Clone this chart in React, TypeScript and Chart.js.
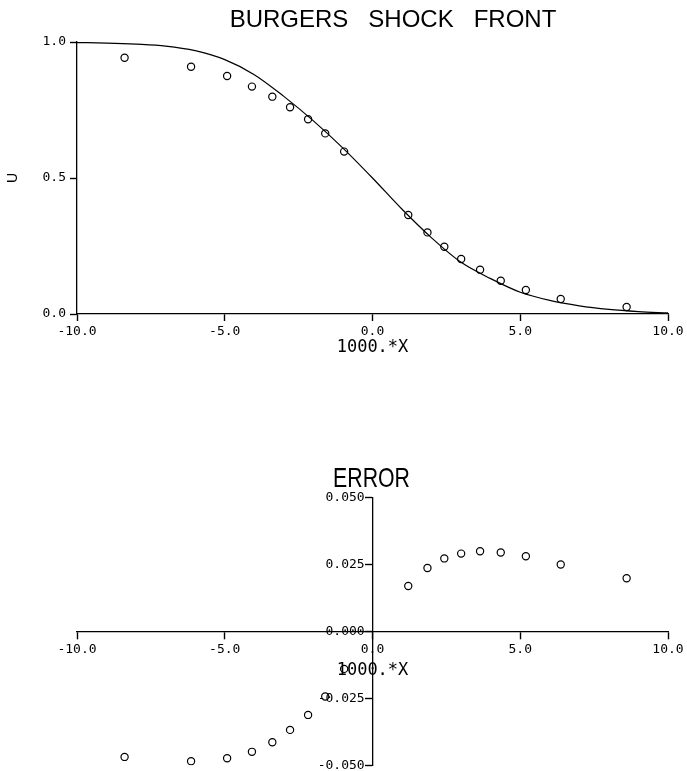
import React, { useEffect, useRef } from "react";
import { Chart, registerables } from "chart.js";

Chart.register(...registerables);

// ---- data ----
const pointX = [-8.39, -6.14, -4.92, -4.08, -3.39, -2.79, -2.18, -1.6, -0.96, 1.21, 1.86, 2.43, 3.0, 3.64, 4.34, 5.19, 6.37, 8.6];
const pointU = [0.942, 0.909, 0.875, 0.836, 0.799, 0.76, 0.716, 0.664, 0.597, 0.364, 0.3, 0.247, 0.202, 0.163, 0.122, 0.088, 0.055, 0.026];
const pointErr = [-0.0469, -0.0485, -0.0474, -0.045, -0.0414, -0.0368, -0.0312, -0.0243, -0.014, 0.017, 0.0237, 0.0273, 0.0291, 0.03, 0.0295, 0.0281, 0.025, 0.0199];
const curveX = [-10, -9, -8, -7, -6, -5, -4, -3, -2, -1, 0, 1, 2, 3, 4, 5, 6, 7, 8, 9, 10];
const curveU = [0.998, 0.996, 0.992, 0.985, 0.968, 0.935, 0.88, 0.8, 0.71, 0.61, 0.5, 0.385, 0.28, 0.19, 0.13, 0.08, 0.05, 0.03, 0.017, 0.009, 0.004];

const topTitle = "BURGERS   SHOCK   FRONT";
const bottomTitle = "ERROR";
const xAxisTitle = "1000.*X";
const yAxisTitle = "U";

const MONO = "'DejaVu Sans Mono', 'Liberation Mono', monospace";
const SANS = "'Liberation Sans', Arial, sans-serif";

const fmt = (d: number, suffix = "") => (v: any) => {
  const n = Number(v);
  return (Math.abs(n) < 1e-9 ? 0 : n).toFixed(d) + suffix;
};

const textPlugin = (id: string, text: string, x: number, y: number, font: string, scaleX = 1) => ({
  id,
  afterDraw(chart: any) {
    const ctx = chart.ctx;
    ctx.save();
    ctx.font = font;
    ctx.fillStyle = "#000";
    ctx.textAlign = "center";
    ctx.textBaseline = "alphabetic";
    ctx.translate(x, y);
    ctx.scale(scaleX, 1);
    ctx.fillText(text, 0, 0);
    ctx.restore();
  },
});

const axisCommon = {
  border: { display: true, color: "#000", width: 1.3 },
  grid: { display: true, drawOnChartArea: false, drawTicks: true, tickLength: 7, tickColor: "#000", tickWidth: 1.4 },
};

export default function App() {
  const topRef = useRef<HTMLCanvasElement>(null);
  const botRef = useRef<HTMLCanvasElement>(null);

  useEffect(() => {
    const curve = curveX.map((x, i) => ({ x, y: curveU[i] }));
    const pts = pointX.map((x, i) => ({ x, y: pointU[i] }));
    const errs = pointX.map((x, i) => ({ x, y: pointErr[i] }));

    const top = new Chart(topRef.current!, {
      type: "scatter",
      data: {
        datasets: [
          {
            data: curve,
            showLine: true,
            pointRadius: 0,
            borderColor: "#000",
            borderWidth: 1.2,
            cubicInterpolationMode: "monotone",
          } as any,
          {
            data: pts,
            showLine: false,
            pointRadius: 3.6,
            pointStyle: "circle",
            borderColor: "#000",
            backgroundColor: "rgba(0,0,0,0)",
            borderWidth: 1.2,
          },
        ],
      },
      options: {
        responsive: false,
        animation: false,
        events: [],
        layout: { padding: { top: 42, right: 19, bottom: 42, left: 0 } },
        plugins: { legend: { display: false }, tooltip: { enabled: false }, title: { display: false } },
        scales: {
          x: {
            type: "linear",
            min: -10,
            max: 10,
            ...axisCommon,
            afterFit: (s: any) => {
              s.height = 44;
            },
            ticks: { stepSize: 5, color: "#000", padding: 3, font: { family: MONO, size: 13 }, callback: fmt(1), maxRotation: 0 },
            title: { display: true, text: xAxisTitle, color: "#000", padding: 0, font: { family: MONO, size: 17 } },
          },
          y: {
            type: "linear",
            min: 0,
            max: 1,
            ...axisCommon,
            afterFit: (s: any) => {
              s.width = 77;
            },
            ticks: { stepSize: 0.5, color: "#000", padding: 4, font: { family: MONO, size: 13 }, callback: fmt(1) },
            title: { display: true, text: yAxisTitle, color: "#000", padding: { top: 5, bottom: 0 }, font: { family: SANS, size: 14 } },
          },
        },
      } as any,
      plugins: [textPlugin("topTitle", topTitle, 393, 27, `24px ${SANS}`)],
    });

    const bot = new Chart(botRef.current!, {
      type: "scatter",
      data: {
        datasets: [
          {
            data: errs,
            showLine: false,
            pointRadius: 3.6,
            pointStyle: "circle",
            borderColor: "#000",
            backgroundColor: "rgba(0,0,0,0)",
            borderWidth: 1.2,
          },
        ],
      },
      options: {
        responsive: false,
        animation: false,
        events: [],
        layout: { padding: { top: 97.7, right: 19, bottom: 6.7, left: 77 } },
        plugins: { legend: { display: false }, tooltip: { enabled: false }, title: { display: false } },
        scales: {
          x: {
            type: "linear",
            min: -10,
            max: 10,
            position: { y: 0 },
            ...axisCommon,
            ticks: { stepSize: 5, color: "#000", padding: 3, font: { family: MONO, size: 13 }, callback: fmt(1), maxRotation: 0 },
            title: { display: true, text: xAxisTitle, color: "#000", padding: 0, font: { family: MONO, size: 17 } },
          },
          y: {
            type: "linear",
            min: -0.05,
            max: 0.05,
            position: { x: 0 },
            ...axisCommon,
            ticks: { stepSize: 0.025, color: "#000", padding: 4, font: { family: MONO, size: 13 }, callback: fmt(3, " ") },
          },
        },
      } as any,
      plugins: [textPlugin("botTitle", bottomTitle, 371.5, 87, `28px ${SANS}`, 0.76)],
    });

    return () => {
      top.destroy();
      bot.destroy();
    };
  }, []);

  return (
    <div style={{ position: "absolute", left: 0, top: 0, width: 687, height: 771, overflow: "hidden", background: "#fff" }}>
      <canvas ref={topRef} width={687} height={400} style={{ position: "absolute", left: 0, top: 0 }} />
      <canvas ref={botRef} width={687} height={377} style={{ position: "absolute", left: 0, top: 400 }} />
    </div>
  );
}
